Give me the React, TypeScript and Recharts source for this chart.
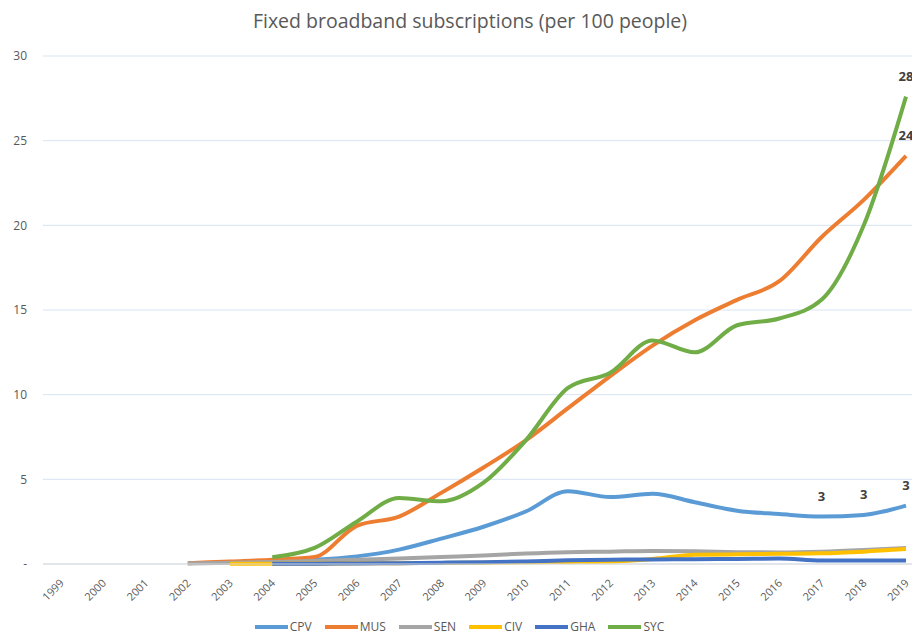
import React from 'react';
import { LineChart, Line, XAxis, YAxis, CartesianGrid, Legend } from 'recharts';

const years = ['1999','2000','2001','2002','2003','2004','2005','2006','2007','2008','2009','2010','2011','2012','2013','2014','2015','2016','2017','2018','2019'];
const cpv = [null,null,null,null,null,0.15,0.25,0.45,0.85,1.5,2.2,3.1,4.3,3.95,4.15,3.65,3.15,2.95,2.8,2.9,3.45];
const mus = [null,null,null,0.05,0.15,0.25,0.42,2.25,2.8,4.2,5.7,7.3,9.2,11.1,12.9,14.4,15.6,16.7,19.3,21.5,24.1];
const sen = [null,null,null,0.03,0.08,0.12,0.18,0.25,0.33,0.42,0.5,0.62,0.7,0.73,0.77,0.75,0.7,0.68,0.72,0.82,0.95];
const civ = [null,null,null,null,0.01,0.02,0.03,0.04,0.05,0.06,0.08,0.1,0.12,0.15,0.3,0.55,0.57,0.6,0.63,0.73,0.88];
const gha = [null,null,null,null,null,0.01,0.02,0.03,0.05,0.08,0.1,0.15,0.22,0.25,0.27,0.28,0.3,0.32,0.2,0.2,0.2];
const syc = [null,null,null,null,null,0.4,0.95,2.5,3.9,3.7,4.8,7.3,10.4,11.3,13.2,12.5,14.1,14.5,15.6,20.0,27.6];
const yTicks = [0,5,10,15,20,25,30];
const cpvLabelYears = ['2017','2018','2019'];
const musLabelYears = ['2019'];
const sycLabelYears = ['2019'];

const data = years.map((y, i) => ({ year: y, CPV: cpv[i], MUS: mus[i], SEN: sen[i], CIV: civ[i], GHA: gha[i], SYC: syc[i] }));

const FONT = '"Open Sans", "Liberation Sans", sans-serif';

const series = [
  { key: 'CPV', color: '#5B9BD5', labels: cpvLabelYears },
  { key: 'MUS', color: '#ED7D31', labels: musLabelYears },
  { key: 'SEN', color: '#A5A5A5', labels: [] as string[] },
  { key: 'CIV', color: '#FFC000', labels: [] as string[] },
  { key: 'GHA', color: '#4472C4', labels: [] as string[] },
  { key: 'SYC', color: '#70AD47', labels: sycLabelYears },
];

const makeLabel = (labelYears: string[]) => (props: any) => {
  const { x, y, index, value } = props;
  if (value == null || !labelYears.includes(years[index])) return <g key={`n${index}`} />;
  return (
    <text key={`l${index}`} x={x} y={y - 16} textAnchor="middle" fill="#404040" fontSize={13} fontWeight="bold" fontFamily={FONT}>
      {Math.round(value)}
    </text>
  );
};

const XTick = (props: any) => {
  const { x, y, payload } = props;
  return (
    <g transform={`translate(${x + 1},${y + 15})`}>
      <text x={0} y={0} dy="0.35em" transform="rotate(-45)" textAnchor="end" fontSize={11} fill="#595959" fontFamily={FONT}>
        {payload.value}
      </text>
    </g>
  );
};

const renderLegend = () => (
  <div style={{ display: 'flex', justifyContent: 'center', alignItems: 'center', height: 14, lineHeight: '14px', fontSize: 12, color: '#595959', fontFamily: FONT }}>
    {series.map((e) => (
      <span key={e.key} style={{ display: 'flex', alignItems: 'center', marginRight: 13 }}>
        <svg width={33} height={4} style={{ display: 'block' }}>
          <line x1={0} y1={2} x2={33} y2={2} stroke={e.color} strokeWidth={4} />
        </svg>
        <span style={{ marginLeft: 2 }}>{e.key}</span>
      </span>
    ))}
  </div>
);

export default function App() {
  return (
    <div style={{ position: 'absolute', left: 0, top: 0, width: 912, height: 635, overflow: 'hidden', background: '#fff' }}>
      <div style={{ position: 'absolute', left: 0, top: 7, width: 940, textAlign: 'center', fontSize: 19.5, color: '#595959', fontFamily: FONT }}>
        Fixed broadband subscriptions (per 100 people)
      </div>
      <LineChart width={935} height={635} data={data} margin={{ top: 56, right: 8, bottom: 1, left: 5 }}>
        <CartesianGrid vertical={false} stroke="#D6E4F2" strokeWidth={1} />
        <XAxis
          dataKey="year"
          padding={{ left: 18, right: 21 }}
          height={56}
          tickLine={false}
          tickSize={0}
          axisLine={{ stroke: '#D9D9D9' }}
          tick={<XTick />}
          interval={0}
        />
        <YAxis
          width={38}
          domain={[0, 30]}
          ticks={yTicks}
          axisLine={false}
          tickLine={false}
          tickSize={0}
          tickMargin={16}
          tick={{ fontSize: 12, fill: '#595959', fontFamily: FONT }}
          tickFormatter={(v: number) => (v === 0 ? '-' : String(v))}
        />
        <Legend verticalAlign="bottom" content={renderLegend} />
        {series.map((s) => (
          <Line
            key={s.key}
            type="monotone"
            dataKey={s.key}
            stroke={s.color}
            strokeWidth={4}
            dot={false}
            activeDot={false}
            isAnimationActive={false}
            connectNulls={false}
            label={s.labels.length ? makeLabel(s.labels) : false}
          />
        ))}
      </LineChart>
    </div>
  );
}
